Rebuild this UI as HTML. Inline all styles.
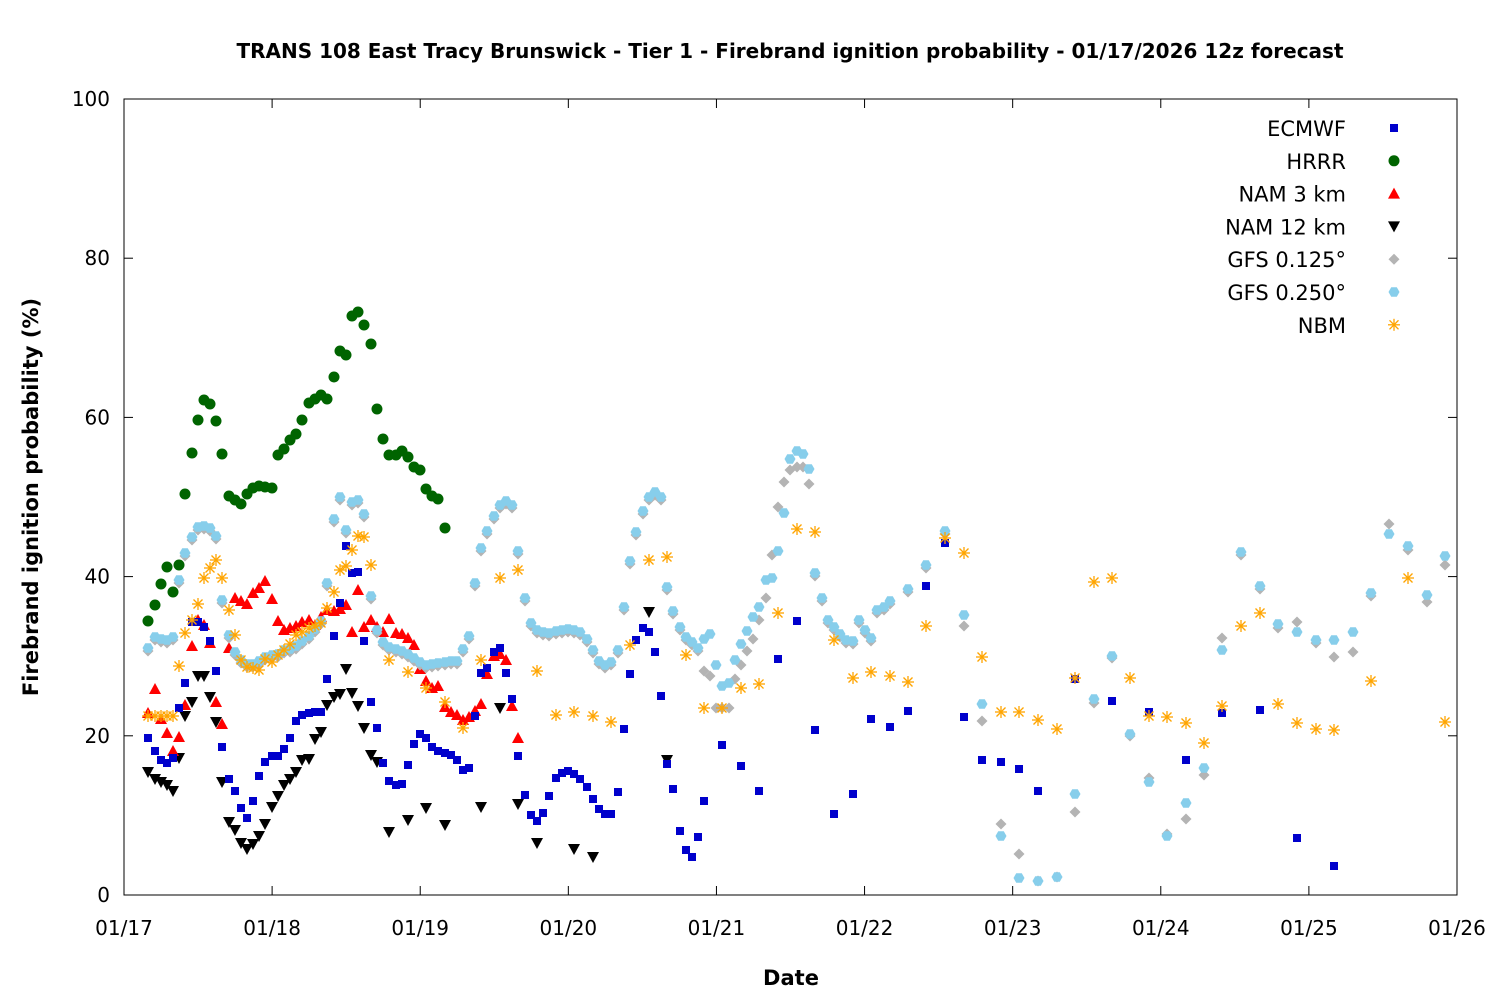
<!DOCTYPE html>
<html><head><meta charset="utf-8"><style>
html,body{margin:0;padding:0;background:#fff;}
svg text{font-family:"DejaVu Sans","Liberation Sans",sans-serif;}
</style></head><body>
<svg id="c" width="1500" height="1000" xmlns="http://www.w3.org/2000/svg">
<rect width="1500" height="1000" fill="#fff"/>
<text x="790" y="58" text-anchor="middle" font-size="20" font-weight="bold">TRANS 108 East Tracy Brunswick - Tier 1 - Firebrand ignition probability - 01/17/2026 12z forecast</text>
<g id="axes"></g>
<g id="pts"></g>
<text x="791" y="985" text-anchor="middle" font-size="21" font-weight="bold">Date</text>
<text transform="translate(38,497) rotate(-90)" text-anchor="middle" font-size="21" font-weight="bold">Firebrand ignition probability (%)</text>
</svg>
<script>
const NS="http://www.w3.org/2000/svg";
const ax=document.getElementById('axes'),pts=document.getElementById('pts');
function el(t,a,p){const e=document.createElementNS(NS,t);for(const k in a)e.setAttribute(k,a[k]);(p||pts).appendChild(e);return e;}
const L=124,R=1457,T=99,B=895;
el('rect',{x:L,y:T,width:R-L,height:B-T,fill:'none',stroke:'#000','stroke-width':1},ax);
for(let i=0;i<=5;i++){const y=B-i*(B-T)/5;
 el('line',{x1:L,y1:y,x2:L+9,y2:y,stroke:'#000'},ax);el('line',{x1:R,y1:y,x2:R-9,y2:y,stroke:'#000'},ax);
 const t=el('text',{x:L-14,y:y+7,'text-anchor':'end','font-size':20},ax);t.textContent=i*20;}
const days=['01/17','01/18','01/19','01/20','01/21','01/22','01/23','01/24','01/25','01/26'];
for(let i=0;i<10;i++){const x=L+i*(R-L)/9;
 el('line',{x1:x,y1:B,x2:x,y2:B-9,stroke:'#000'},ax);el('line',{x1:x,y1:T,x2:x,y2:T+9,stroke:'#000'},ax);
 const t=el('text',{x:x,y:935,'text-anchor':'middle','font-size':20},ax);t.textContent=days[i];}
function P(s){const a=s.trim().split(/\s+/).map(Number);const r=[];for(let i=0;i<a.length;i+=2)r.push([a[i],a[i+1]]);return r;}
function mk(type,x,y){
 if(type=='sq')el('rect',{x:x-4,y:y-4,width:8,height:8,fill:'#0000cc'});
 else if(type=='ci')el('circle',{cx:x,cy:y,r:5.5,fill:'#006400'});
 else if(type=='tu')el('polygon',{points:`${x},${y-6} ${x-6},${y+5} ${x+6},${y+5}`,fill:'#ff0000'});
 else if(type=='td')el('polygon',{points:`${x},${y+6} ${x-6},${y-5} ${x+6},${y-5}`,fill:'#000'});
 else if(type=='di')el('polygon',{points:`${x},${y-5.5} ${x+5.5},${y} ${x},${y+5.5} ${x-5.5},${y}`,fill:'#b4b4b4'});
 else if(type=='hx')el('polygon',{points:`${x-5.5},${y} ${x-2.8},${y-4.8} ${x+2.8},${y-4.8} ${x+5.5},${y} ${x+2.8},${y+4.8} ${x-2.8},${y+4.8}`,fill:'#87ceeb'});
 else if(type=='as'){const g={stroke:'#ffa500','stroke-width':1.3};
  el('line',Object.assign({x1:x-6,y1:y,x2:x+6,y2:y},g));el('line',Object.assign({x1:x,y1:y-6,x2:x,y2:y+6},g));
  el('line',Object.assign({x1:x-4.5,y1:y-4.5,x2:x+4.5,y2:y+4.5},g));el('line',Object.assign({x1:x-4.5,y1:y+4.5,x2:x+4.5,y2:y-4.5},g));}
}
const nbm=P(`148 716 155 716 161 716 167 716 173 716 179 666 185 633 192 620 198 604 204 578 210 568 216 560 222 578 229 610 235 635 241 660 247 667 253 668 259 670 265 659 272 662 278 655 284 650 290 644 296 635 302 632 309 628 315 626 321 623 327 608 334 592 340 570 346 566 352 550 358 536 364 537 371 565 389 660 408 672 426 688 445 702 463 728 481 660 500 578 518 570 537 671 556 715 574 712 593 716 611 722 630 645 649 560 667 557 686 655 704 708 722 708 741 688 759 684 778 613 797 529 815 532 834 640 853 678 871 672 890 676 908 682 926 626 945 538 964 553 982 657 1001 712 1019 712 1038 720 1057 729 1075 678 1094 582 1112 578 1130 678 1149 716 1167 717 1186 723 1204 743 1222 706 1241 626 1260 613 1278 704 1297 723 1316 729 1334 730 1371 681 1408 578 1445 722`);
const gfs25=P(`148 648 155 637 161 639 167 640 173 637 179 580 185 553 192 537 198 527 204 526 210 528 216 536 222 600 229 635 235 652 241 660 247 664 253 664 259 661 265 657 272 655 278 654 284 650 290 649 296 646 302 641 309 636 315 629 321 621 327 583 334 519 340 497 346 530 352 502 358 500 364 514 371 596 377 630 383 642 389 647 396 649 402 651 408 654 414 658 420 662 426 665 432 664 438 663 445 662 451 661 457 661 463 649 469 636 475 583 481 548 487 531 494 516 500 505 506 501 512 505 518 551 525 598 531 623 537 630 543 632 549 633 556 631 562 630 568 629 574 630 580 632 587 639 593 650 599 661 605 665 611 662 618 650 624 607 630 561 636 532 643 511 649 497 655 492 661 497 667 587 673 611 680 627 686 637 692 642 698 648 704 639 710 634 716 665 722 686 729 683 735 660 741 644 747 631 753 617 759 607 766 580 772 578 778 551 784 513 790 459 797 451 803 454 809 469 815 573 822 598 828 620 834 627 840 634 846 640 853 641 859 620 865 630 871 638 877 610 884 607 890 601 908 589 926 565 945 531 964 615 982 704 1001 836 1019 878 1038 881 1057 877 1075 794 1094 699 1112 656 1130 734 1149 782 1167 836 1186 803 1204 768 1222 650 1241 552 1260 586 1278 624 1297 632 1316 640 1334 640 1353 632 1371 593 1389 534 1408 546 1427 595 1445 556`);
const over={704:671,710:676,716:708,722:708,729:708,735:679,741:665,747:651,753:639,759:620,766:598,772:555,778:507,784:482,790:470,797:467,803:467,809:484,964:626,982:721,1001:824,1019:854,1038:881,1057:877,1075:812,1094:703,1112:658,1130:736,1149:778,1167:834,1186:819,1204:775,1222:638,1278:628,1297:622,1334:657,1353:652,1389:524,1408:550,1427:602,1445:565};
const gfs125=gfs25.map(([x,y])=>[x,over[x]!==undefined?over[x]:y+3]);
const ec=P(`148 738 155 751 161 760 167 763 173 758 179 708 185 683 192 622 198 622 204 627 210 641 216 671 222 747 229 779 235 791 241 808 247 818 253 801 259 776 265 762 272 756 278 756 284 749 290 738 296 721 302 715 309 713 315 712 321 712 327 679 334 636 340 603 346 546 352 573 358 572 364 641 371 702 377 728 383 763 389 781 396 785 402 784 408 765 414 744 420 734 426 738 432 747 438 751 445 753 451 755 457 760 463 770 469 768 475 716 481 673 487 668 494 652 500 648 506 673 512 699 518 756 525 795 531 815 537 821 543 813 549 796 556 778 562 773 568 771 574 774 580 779 587 787 593 799 599 809 605 814 611 814 618 792 624 729 630 674 636 640 643 628 649 632 655 652 661 696 667 764 673 789 680 831 686 850 692 857 698 837 704 801 722 745 741 766 759 791 778 659 797 621 815 730 834 814 853 794 871 719 890 727 908 711 926 586 945 543 964 717 982 760 1001 762 1019 769 1038 791 1075 679 1112 701 1149 712 1186 760 1222 713 1260 710 1297 838 1334 866`);
const hrrr=P(`148 621 155 605 161 584 167 567 173 592 179 565 185 494 192 453 198 420 204 400 210 404 216 421 222 454 229 496 235 500 241 504 247 494 253 488 259 486 265 487 272 488 278 455 284 449 290 440 296 434 302 420 309 403 315 399 321 395 327 399 334 377 340 351 346 355 352 316 358 312 364 325 371 344 377 409 383 439 389 455 396 455 402 451 408 457 414 467 420 470 426 489 432 496 438 499 445 528`);
const n3=P(`148 713 155 689 161 719 167 733 173 751 179 737 185 705 192 646 198 620 204 625 210 643 216 702 222 724 229 648 235 598 241 601 247 604 253 593 259 588 265 581 272 599 278 621 284 630 290 628 296 626 302 622 309 620 315 625 321 617 327 610 334 611 340 609 346 605 352 632 358 590 364 627 371 620 377 627 383 632 389 619 396 633 402 634 408 638 414 645 420 669 426 681 432 688 438 686 445 707 451 712 457 715 463 720 469 717 475 711 481 704 487 674 494 656 500 654 506 660 512 706 518 738`);
const n12=P(`148 772 155 779 161 782 167 785 173 791 179 758 185 716 192 702 198 676 204 676 210 697 216 722 222 782 229 822 235 830 241 843 247 849 253 844 259 836 265 824 272 807 278 796 284 785 290 779 296 772 302 760 309 759 315 739 321 732 327 705 334 697 340 694 346 669 352 693 358 706 364 728 371 755 377 762 389 832 408 820 426 808 445 825 481 807 500 708 518 804 537 843 574 849 593 857 649 612 667 760`);
n12.forEach(p=>mk('td',...p));
n3.forEach(p=>mk('tu',...p));
hrrr.forEach(p=>mk('ci',...p));
gfs125.forEach(p=>mk('di',...p));
gfs25.forEach(p=>mk('hx',...p));
ec.forEach(p=>mk('sq',...p));
nbm.forEach(p=>mk('as',...p));
const leg=[['ECMWF','sq'],['HRRR','ci'],['NAM 3 km','tu'],['NAM 12 km','td'],['GFS 0.125°','di'],['GFS 0.250°','hx'],['NBM','as']];
leg.forEach(([n,t],i)=>{const y=128+i*32.8;const tx=el('text',{x:1346,y:y+8,'text-anchor':'end','font-size':21});tx.textContent=n;mk(t,1394,y);});
</script>
</body></html>
